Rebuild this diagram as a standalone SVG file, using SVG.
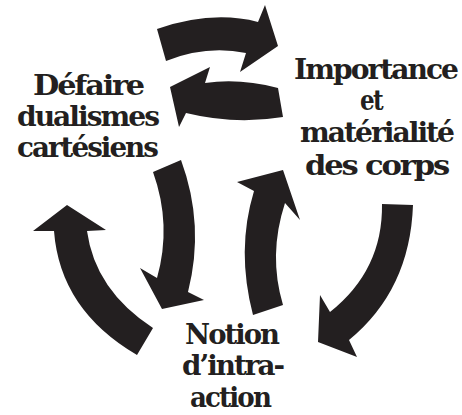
<svg xmlns="http://www.w3.org/2000/svg" width="462" height="415" viewBox="0 0 462 415">
<style>
.arr{fill:#231f20;stroke:none}
.t{font-family:"DejaVu Serif","Liberation Serif",serif;font-weight:bold;font-size:28px;letter-spacing:-2px;fill:#231f20}
</style>
<rect width="462" height="415" fill="#fff"/>
<g id="connectors">
<path class="arr" d="M157,29 Q212,10 258,22 L265,5 L278,46 L240,72 L246,53 Q206,45 166,61 Z"/>
<path class="arr" d="M278,88 Q240,78 205,83 L210,67 L170,87 L179,127 L186,113 Q235,125 283,117 Z"/>
<path class="arr" d="M153,172 Q172,225 157,278 L140,268 L162,309 L204,300 L188,292 Q205,225 181,160 Z"/>
<path class="arr" d="M54,231 Q60,310 137,355 L153,328 Q95,290 87,231 L106,230 L67,205 L33,231 Z"/>
<path class="arr" d="M253,315 Q236,250 254,191 L237,182 L283,170 L300,220 L285,203 Q268,255 283,305 Z"/>
<path class="arr" d="M382,204 Q383,270 330,312 L320,295 L318,342 L357,357 L349,340 Q410,290 413,205 Z"/>
</g>
<g id="node-cartesiens">
<text class="t" x="33" y="95" textLength="110" lengthAdjust="spacingAndGlyphs">Défaire</text>
<text class="t" x="17" y="126" textLength="141" lengthAdjust="spacingAndGlyphs">dualismes</text>
<text class="t" x="17" y="157" textLength="140" lengthAdjust="spacingAndGlyphs">cartésiens</text>
</g>
<g id="node-corps">
<text class="t" x="294" y="79" textLength="163" lengthAdjust="spacingAndGlyphs">Importance</text>
<text class="t" x="360" y="110" textLength="22" lengthAdjust="spacingAndGlyphs">et</text>
<text class="t" x="300" y="142" textLength="153" lengthAdjust="spacingAndGlyphs">matérialité</text>
<text class="t" x="305" y="175" textLength="143" lengthAdjust="spacingAndGlyphs">des corps</text>
</g>
<g id="node-intra-action">
<text class="t" x="185" y="344" textLength="93" lengthAdjust="spacingAndGlyphs">Notion</text>
<text class="t" x="182" y="375" textLength="101" lengthAdjust="spacingAndGlyphs">d’intra-</text>
<text class="t" x="190" y="407" textLength="80" lengthAdjust="spacingAndGlyphs">action</text>
</g>
</svg>
